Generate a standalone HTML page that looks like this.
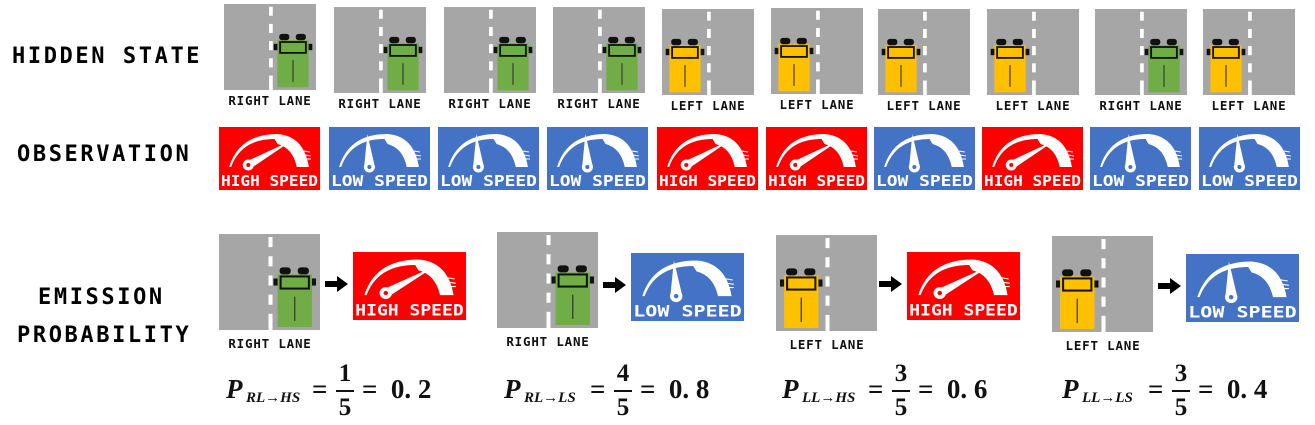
<!DOCTYPE html>
<html><head><meta charset="utf-8">
<style>
body{margin:0;width:1315px;height:425px;background:#fff;position:relative;overflow:hidden;font-family:"DejaVu Sans Mono","Liberation Mono",monospace;}
.lbl{position:absolute;font-weight:bold;font-size:22px;color:#000;letter-spacing:2.6px;}
.sm{position:absolute;font-weight:bold;font-size:12.5px;color:#111;text-align:center;letter-spacing:0.8px;}
svg{position:absolute;}
.f{position:absolute;font-family:"Liberation Serif",serif;font-weight:bold;color:#111;height:60px;}
.f .P{position:absolute;left:0;top:14px;font-size:27px;font-style:italic;}
.f .sub{position:absolute;left:20px;top:30px;font-size:15px;font-style:italic;white-space:nowrap;}
.f .eq{position:absolute;font-size:27px;top:14px;white-space:nowrap;}
.f .fr{position:absolute;top:0;width:18px;text-align:center;font-size:25px;line-height:28px;}
.f .fr .bar{border-top:2px solid #111;margin:2px 0;}
</style></head><body>
<div class="lbl" style="left:12px;top:44px">HIDDEN STATE</div>
<div class="lbl" style="left:17px;top:142px">OBSERVATION</div>
<div class="lbl" style="left:38px;top:285px">EMISSION</div>
<div class="lbl" style="left:17px;top:323px">PROBABILITY</div>
<script>
function road(x,y,w,h,lane,name){
  const car=lane==='R'?'#70ad47':'#ffc000';
  const cx=lane==='R'?58:8;
  let s=`<svg style="left:${x}px;top:${y}px" width="${w}" height="${h}" viewBox="0 0 100 95" preserveAspectRatio="none">`;
  s+=`<rect width="100" height="95" fill="#a6a6a6"/>`;
  for(let d=3;d<70;d+=19) s+=`<rect x="49" y="${d}" width="4" height="10" fill="#fff"/>`;
  s+=`<rect x="49" y="79" width="4" height="16" fill="#fff"/>`;
  s+=`<rect x="${cx}" y="40" width="34" height="52" fill="${car}"/>`;
  s+=`<rect x="${cx+2}" y="33" width="11" height="7" rx="3" fill="#111"/><rect x="${cx+20}" y="33" width="11" height="7" rx="3" fill="#111"/>`;
  s+=`<rect x="${cx-4}" y="44" width="4" height="7" fill="#111"/><rect x="${cx+34}" y="44" width="4" height="7" fill="#111"/>`;
  s+=`<rect x="${cx+3}" y="42" width="28" height="12" fill="none" stroke="#111" stroke-width="2"/>`;
  s+=`<line x1="${cx+17}" y1="62" x2="${cx+17}" y2="86" stroke="#333" stroke-width="1.2"/></svg>`;
  document.write(s);
}
function gauge(x,y,w,h,hi,name){
  const bg=hi?'#ff0000':'#4472c4';
  let s=`<svg style="left:${x}px;top:${y}px" width="${w}" height="${h}" viewBox="0 0 100 63" preserveAspectRatio="none">`;
  s+=`<rect width="100" height="63" fill="${bg}"/>`;
  s+=`<path d="M10 40 Q20 7 58 7 Q84 9 89 40 L77 40 Q73 21 58 17 L55 12 Q22 12 12 40 Z" fill="#fff"/>`;
  s+=`<path d="M84 24 l6 1 M85 28 l6 1 M86 32 l5 0" stroke="#fff" stroke-width="1"/>`;
  if(hi){s+=`<polygon points="26,35 32,41 73,13" fill="#fff"/><circle cx="29" cy="38" r="5.5" fill="#fff"/><circle cx="29" cy="38" r="2" fill="${bg}"/>`;}
  else{s+=`<polygon points="35,38 45,38 38,7" fill="#fff"/><circle cx="40" cy="40" r="5.5" fill="#fff"/><circle cx="40" cy="40" r="2" fill="${bg}"/>`;}
  s+=`<text x="50" y="59" text-anchor="middle" font-family="DejaVu Sans Mono,monospace" font-weight="bold" font-size="15" fill="#fff" textLength="96" lengthAdjust="spacingAndGlyphs">${hi?'HIGH SPEED':'LOW SPEED'}</text></svg>`;
  document.write(s);
}
function label(x,y,w,t,name){document.write(`<div class="sm" style="left:${x}px;top:${y}px;width:${w}px">${t}</div>`);}
const tops=[[224,4,'R'],[334,7,'R'],[444,7,'R'],[553,7,'R'],[662,9,'L'],[771,8,'L'],[878,9,'L'],[987,9,'L'],[1095,9,'R'],[1203,9,'L']];
tops.forEach((t,i)=>{road(t[0],t[1],92,86,t[2],'hidden-state-road-'+(i+1));label(t[0]-10,t[1]+89,112,t[2]==='R'?'RIGHT LANE':'LEFT LANE','hidden-state-caption-'+(i+1));});
const obs=[[219,1],[329,0],[438,0],[547,0],[657,1],[766,1],[874,0],[982,1],[1090,0],[1199,0]];
obs.forEach((o,i)=>gauge(o[0],127,101,63,o[1],'observation-'+(i+1)));
const em=[[219,234,'R',353,252,1],[497,232,'R',631,253,0],[776,235,'L',907,252,1],[1052,236,'L',1186,254,0]];
em.forEach((e,i)=>{
 road(e[0],e[1],101,96,e[2],'emission-road-'+(i+1));
 label(e[0]-5,e[1]+102,112,e[2]==='R'?'RIGHT LANE':'LEFT LANE','emission-caption-'+(i+1));
 const ax=e[3]-28;
 document.write(`<svg style="left:${ax}px;top:${e[4]+24}px" width="24" height="16"><rect x="0" y="5" width="13" height="6" fill="#000"/><polygon points="12,0 23,8 12,16" fill="#000"/></svg>`);
 gauge(e[3],e[4],113,68,e[5],'emission-observation-'+(i+1));
});
const fs=[[226,'RL→HS','1','0. 2'],[504,'RL→LS','4','0. 8'],[782,'LL→HS','3','0. 6'],[1062,'LL→LS','3','0. 4']];
fs.forEach((f,i)=>{
 document.write(`<div class="f" style="left:${f[0]}px;top:360px;width:240px"><span class="P">P</span><span class="sub">${f[1]}</span><span class="eq" style="left:86px">=</span><div class="fr" style="left:110px"><div>${f[2]}</div><div class="bar"></div><div>5</div></div><span class="eq" style="left:136px">=&nbsp;&nbsp;0.&nbsp;${f[3].slice(-1)}</span></div>`);
});
</script>
</body></html>
